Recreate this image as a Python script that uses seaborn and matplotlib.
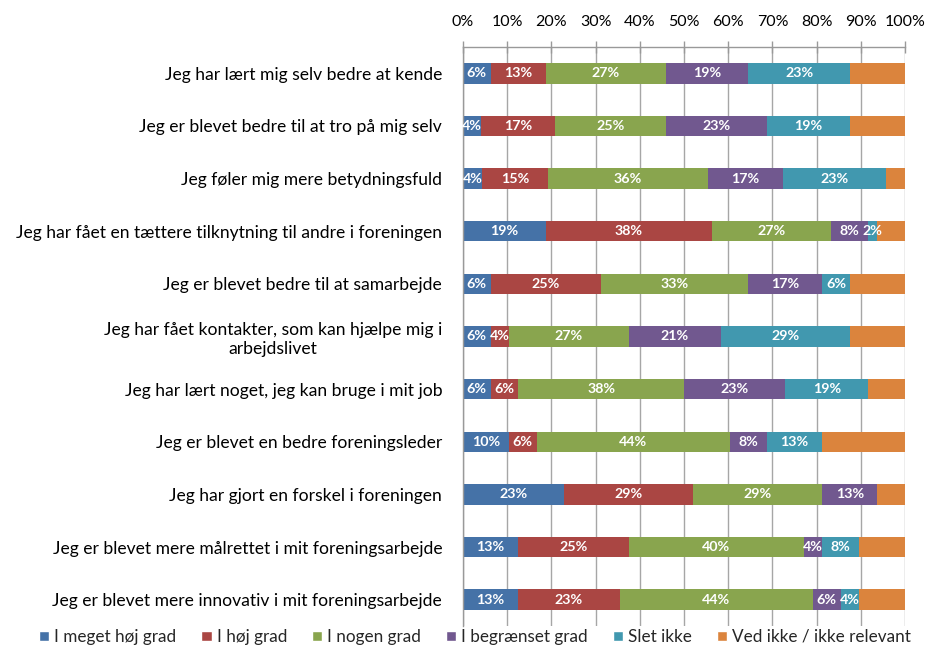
import numpy as np
import pandas as pd
import matplotlib.pyplot as plt
import seaborn as sns
from matplotlib.patches import Patch

sns.set_theme(style="white")
plt.rcParams['font.family'] = ['Lato', 'DejaVu Sans']

# statements (top to bottom)
statements = [
    "Jeg har lært mig selv bedre at kende",
    "Jeg er blevet bedre til at tro på mig selv",
    "Jeg føler mig mere betydningsfuld",
    "Jeg har fået en tættere tilknytning til andre i foreningen",
    "Jeg er blevet bedre til at samarbejde",
    "Jeg har fået kontakter, som kan hjælpe mig i\narbejdslivet",
    "Jeg har lært noget, jeg kan bruge i mit job",
    "Jeg er blevet en bedre foreningsleder",
    "Jeg har gjort en forskel i foreningen",
    "Jeg er blevet mere målrettet i mit foreningsarbejde",
    "Jeg er blevet mere innovativ i mit foreningsarbejde",
]

levels = ["I meget høj grad", "I høj grad", "I nogen grad",
          "I begrænset grad", "Slet ikke", "Ved ikke / ikke relevant"]

# shares in percent
meget_hoej = [6.25, 4.17, 4.26, 18.75, 6.25, 6.25, 6.25, 10.42, 22.92, 12.5, 12.5]
hoej       = [12.5, 16.67, 14.89, 37.5, 25.0, 4.17, 6.25, 6.25, 29.17, 25.0, 22.92]
nogen      = [27.08, 25.0, 36.17, 27.08, 33.33, 27.08, 37.5, 43.75, 29.17, 39.58, 43.75]
begraenset = [18.75, 22.92, 17.02, 8.33, 16.67, 20.83, 22.92, 8.33, 12.5, 4.17, 6.25]
slet_ikke  = [22.92, 18.75, 23.40, 2.08, 6.25, 29.17, 18.75, 12.5, 0.0, 8.33, 4.17]
ved_ikke   = [12.5, 12.5, 4.26, 6.25, 12.5, 12.5, 8.33, 18.75, 6.25, 10.42, 10.42]

colors = ["#4572A7", "#AA4643", "#89A54E", "#71588F", "#4198AF", "#DB843D"]

df = pd.DataFrame({"statement": statements})
series = [meget_hoej, hoej, nogen, begraenset, slet_ikke, ved_ikke]
for name, vals in zip(levels, series):
    df[name] = vals
cum = df[levels].cumsum(axis=1)

fig = plt.figure(figsize=(9.26, 6.46), dpi=100)
ax = fig.add_axes([463 / 926, 1 - 626 / 646, 442 / 926, 579 / 646])

# stacked bars: draw cumulative totals from the back to the front
for name, col in reversed(list(zip(levels, colors))):
    sns.barplot(x=cum[name], y=df["statement"], orient="h", color=col,
                width=0.39, saturation=1, ax=ax, linewidth=0)

# segment labels (all except "Ved ikke")
for i in range(len(statements)):
    left = 0
    for name in levels:
        v = df.loc[i, name]
        if name != levels[-1] and v > 0:
            ax.text(left + v / 2, i, f"{int(v + 0.5)}%", ha="center", va="center",
                    color="white", fontsize=10.3, fontweight="bold")
        left += v

ax.set_xlim(0, 100)
ax.set_ylim(len(statements) - 0.5, -0.5)
ax.set_xticks(np.arange(0, 101, 10))
ax.set_xticklabels([f"{t}%" for t in range(0, 101, 10)], fontsize=11.5)
ax.xaxis.tick_top()
ax.tick_params(axis="x", direction="inout", length=8, width=1, color="#999999",
               pad=9, labelcolor="black")
ax.tick_params(axis="y", length=0, pad=15, labelsize=12.6, labelcolor="black")
ax.set_xlabel("")
ax.set_ylabel("")
ax.grid(axis="x", color="#A6A6A6", linewidth=1)
ax.set_axisbelow(True)
for s in ["right", "bottom"]:
    ax.spines[s].set_visible(False)
for s in ["top", "left"]:
    ax.spines[s].set_color("#999999")
    ax.spines[s].set_linewidth(1)
for lbl in ax.get_yticklabels():
    lbl.set_multialignment("center")

handles = [Patch(facecolor=c, label=l) for l, c in zip(levels, colors)]
fig.legend(handles=handles, loc="center", bbox_to_anchor=(0.513, 0.014), ncol=6,
           frameon=False, fontsize=12.3, handlelength=0.6, handleheight=0.6,
           handletextpad=0.3, columnspacing=1.45)

fig.savefig("out.png", dpi=100)
